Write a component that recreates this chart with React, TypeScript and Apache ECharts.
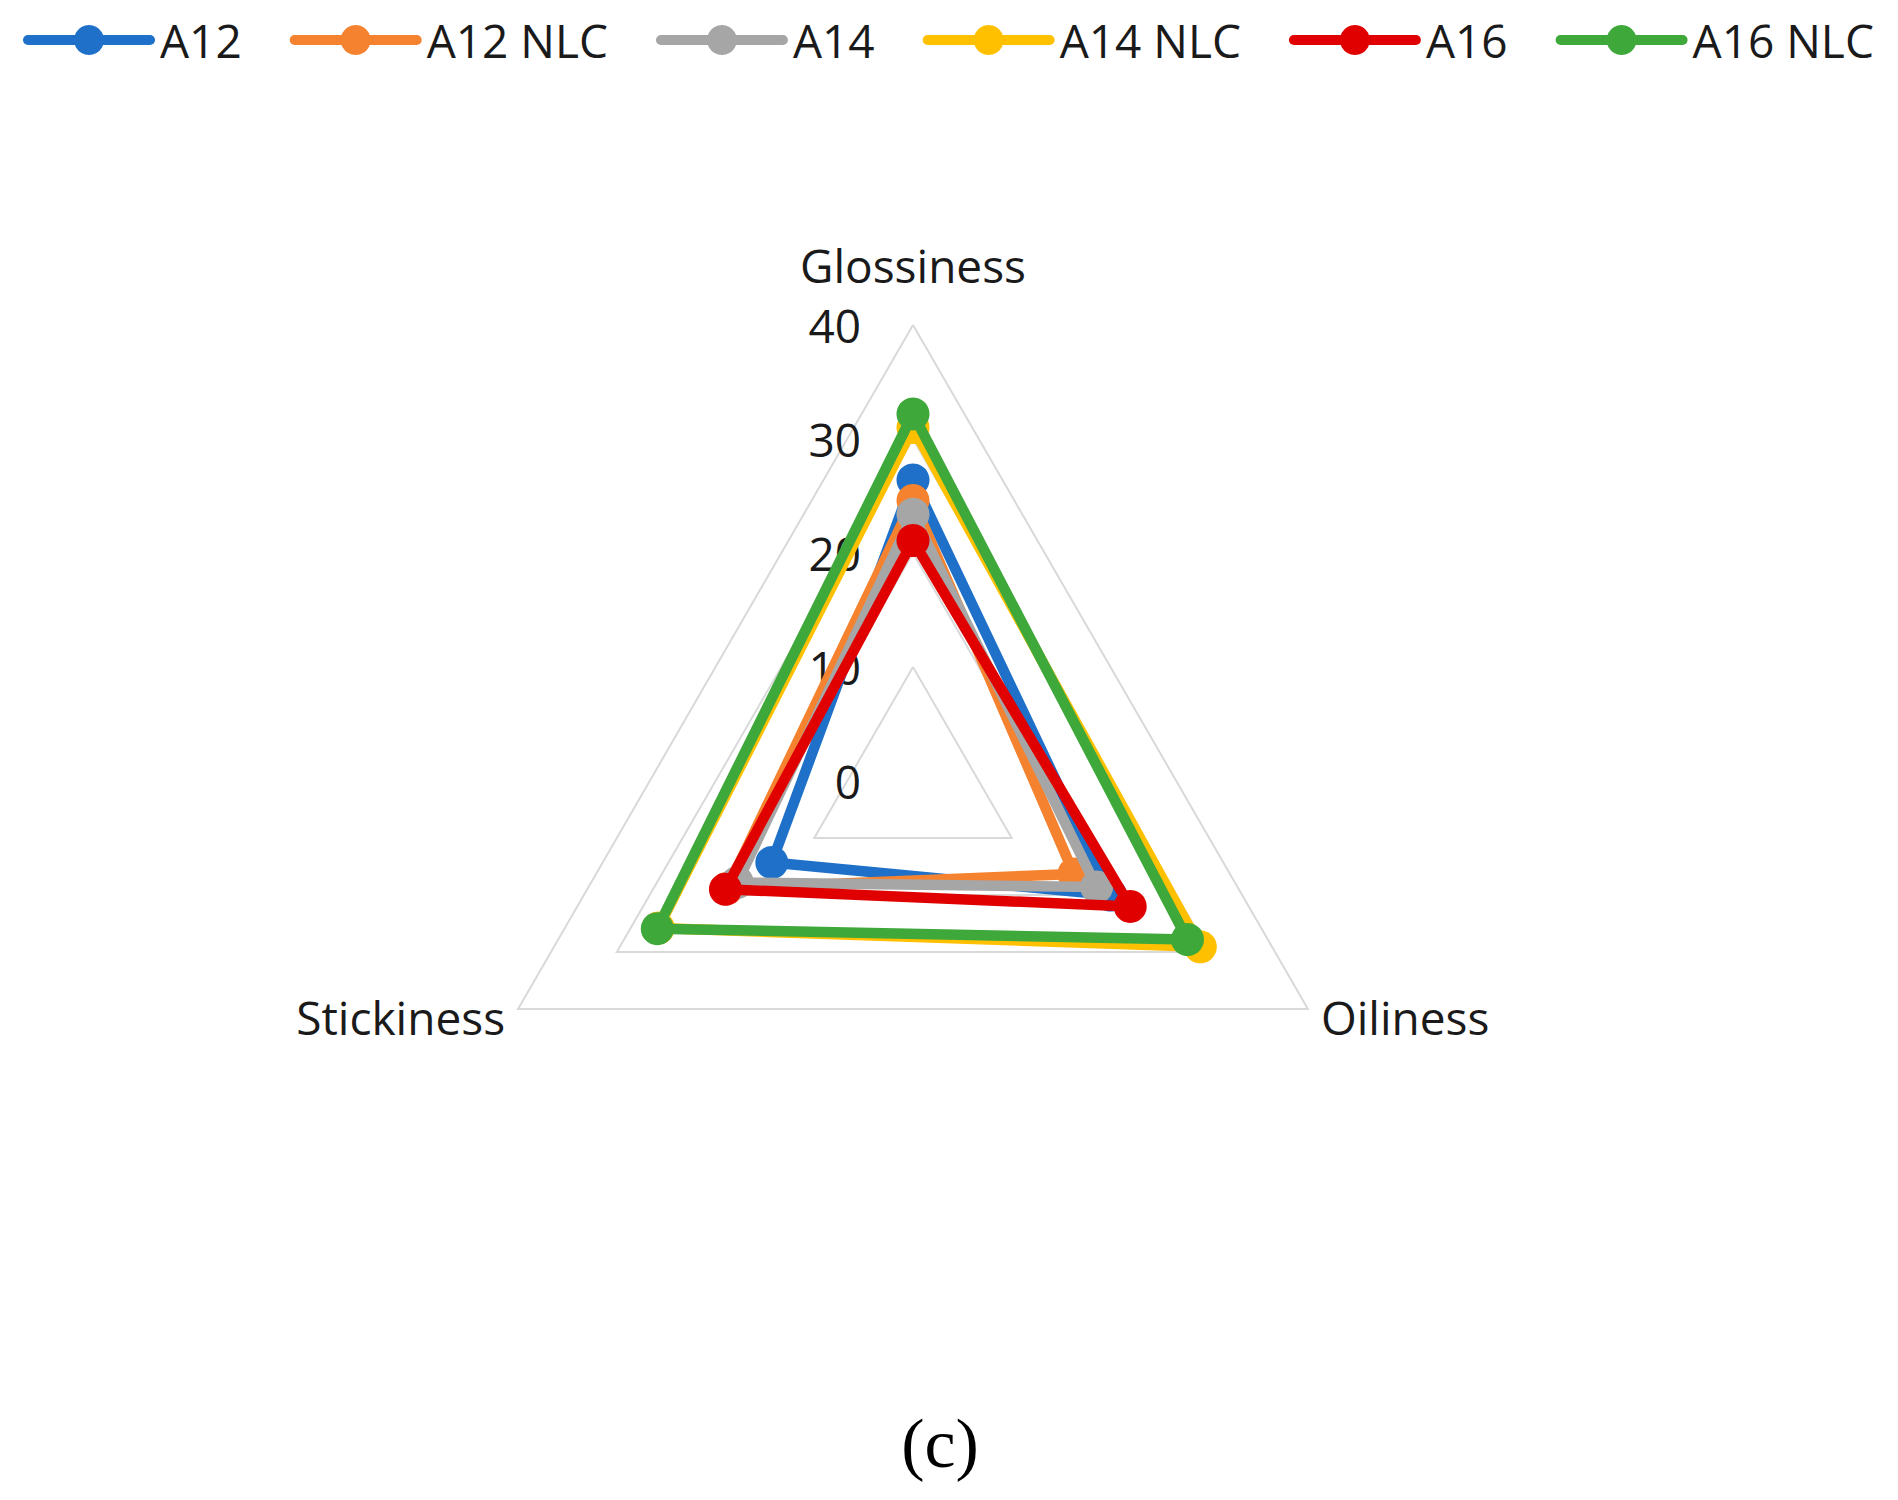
import React, { useEffect, useRef } from "react";
import * as echarts from "echarts";

const indicators = ["Glossiness", "Stickiness", "Oiliness"];
const seriesNames = ["A12", "A12 NLC", "A14", "A14 NLC", "A16", "A16 NLC"];
const colors = ["#1f70c8", "#f5822f", "#a6a6a6", "#ffc000", "#e00000", "#3fa83a"];
const glossiness = [26.4, 24.6, 23.4, 31.0, 21.1, 32.2];
const stickiness = [14.3, 18.8, 17.8, 25.8, 19.0, 25.9];
const oiliness = [20.0, 16.3, 18.6, 29.1, 22.0, 27.8];
const tickValues = [0, 10, 20, 30, 40];

const FONT = "'Open Sans', 'Noto Sans', sans-serif";

export default function App() {
  const ref = useRef<HTMLDivElement>(null);
  useEffect(() => {
    if (!ref.current) return;
    const chart = echarts.init(ref.current, undefined, { renderer: "svg" });
    const cx = 905;
    const cy = 773;
    const R = 456;
    const lineSeries = seriesNames.map((n, i) => ({
      type: "line",
      name: n,
      data: [],
      xAxisIndex: 0,
      yAxisIndex: 0,
      symbol: "circle",
      symbolSize: 30,
      itemStyle: { color: colors[i] },
      lineStyle: { color: colors[i], width: 10 },
    }));
    const radarSeries = seriesNames.map((n, i) => ({
      type: "radar",
      name: n,
      symbol: "circle",
      symbolSize: 33,
      itemStyle: { color: colors[i] },
      lineStyle: { color: colors[i], width: 10.5 },
      data: [{ name: n, value: [glossiness[i], stickiness[i], oiliness[i]] }],
      z: 2 + i,
    }));
    chart.setOption({
      animation: false,
      legend: {
        data: seriesNames,
        left: 10,
        top: 4,
        width: 1870,
        itemWidth: 122,
        itemHeight: 37.5,
        itemGap: 48,
        lineStyle: { width: 10, cap: "round" },
        textStyle: {
          fontSize: 46,
          lineHeight: 40,
          color: "#1a1a1a",
          fontFamily: FONT,
          padding: [0, 0, 0, 5],
        },
      },
      grid: { left: cx, top: cy - R, width: 1, height: R, containLabel: false },
      xAxis: { type: "value", show: false, min: 0, max: 1 },
      yAxis: {
        type: "value",
        min: tickValues[0],
        max: tickValues[tickValues.length - 1],
        interval: 10,
        axisLine: { show: false },
        axisTick: { show: false },
        splitLine: { show: false },
        axisLabel: {
          margin: 52,
          fontSize: 46,
          lineHeight: 40,
          color: "#1a1a1a",
          fontFamily: FONT,
        },
      },
      radar: {
        center: [cx, cy],
        radius: R,
        startAngle: 90,
        shape: "polygon",
        splitNumber: 4,
        nameGap: 15,
        indicator: indicators.map((n) => ({ name: n, min: 0, max: 40 })),
        axisName: {
          color: "#1a1a1a",
          fontSize: 46,
          fontFamily: FONT,
          formatter: (name: string) =>
            name === "Glossiness" ? "{g|" + name + "}\n{s| }" : name,
          rich: {
            g: {
              fontSize: 46,
              lineHeight: 46,
              color: "#1a1a1a",
              fontFamily: FONT,
            },
            s: { fontSize: 6, lineHeight: 22 },
          },
        },
        axisLine: { show: false },
        axisTick: { show: false },
        axisLabel: { show: false },
        splitLine: { lineStyle: { color: "#d9d9d9", width: 2 } },
        splitArea: { show: false },
      },
      graphic: [
        {
          type: "text",
          x: 932,
          y: 1435,
          style: {
            text: "(c)",
            fontSize: 70,
            fontFamily: "'Liberation Serif', 'Times New Roman', serif",
            fill: "#000",
            textAlign: "center",
            textVerticalAlign: "middle",
          },
        },
      ],
      series: [...lineSeries, ...radarSeries],
    });
    return () => chart.dispose();
  }, []);
  return <div ref={ref} style={{ width: 1882, height: 1484 }} />;
}
